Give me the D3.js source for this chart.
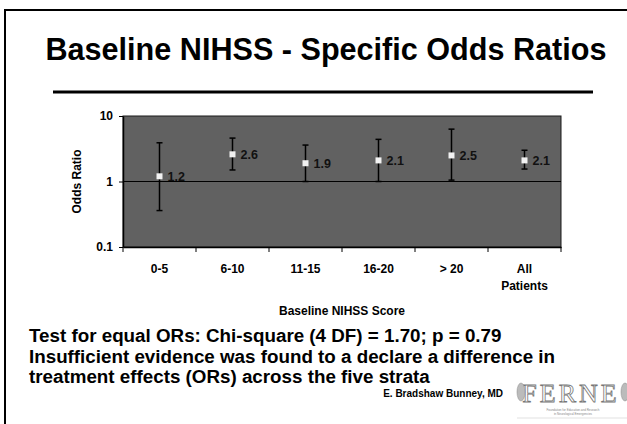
<!DOCTYPE html>
<html lang="en">
<head>
<meta charset="UTF-8">
<title>Baseline NIHSS - Specific Odds Ratios</title>
<style>
  body { margin: 0; background: #fff; font-family: "Liberation Sans", Arial, sans-serif; }
  svg { display: block; }
  .axis text { font-weight: bold; font-size: 12px; fill: #000; }
  .axis path, .axis line { stroke: #000; }
</style>
</head>
<body>
<div id="chart"></div>
<script src="https://d3js.org/d3.v7.min.js"></script>
<script>
// data
const categories = ["0-5", "6-10", "11-15", "16-20", "> 20", "All Patients"];
const oddsRatios = [1.2, 2.6, 1.9, 2.1, 2.5, 2.1];
const lowerCI = [0.36, 1.5, 1.0, 1.0, 1.05, 1.55];
const upperCI = [3.9, 4.6, 3.6, 4.4, 6.3, 3.0];
const yTicks = [0.1, 1, 10];
const notes = [
  "Test for equal ORs: Chi-square (4 DF) = 1.70; p = 0.79",
  "Insufficient evidence was found to a declare a difference in",
  "treatment effects (ORs) across the five strata"
];

const W = 627, H = 424;
const svg = d3.select("#chart").append("svg")
  .attr("width", W).attr("height", H);

// slide frame
svg.append("rect")
  .attr("x", 5).attr("y", 10).attr("width", 700).attr("height", 500)
  .attr("fill", "none").attr("stroke", "#000").attr("stroke-width", 2);

svg.append("text")
  .attr("x", 326).attr("y", 60)
  .attr("text-anchor", "middle")
  .style("font-size", "30.6px").style("font-weight", "bold")
  .text("Baseline NIHSS - Specific Odds Ratios");

svg.append("line")
  .attr("x1", 53).attr("x2", 593).attr("y1", 92).attr("y2", 92)
  .attr("stroke", "#000").attr("stroke-width", 3);

// plot area
const pLeft = 123, pRight = 561, pTop = 116, pBottom = 247;
const x = d3.scaleBand().domain(categories).range([pLeft, pRight]).padding(0);
const y = d3.scaleLog().domain([0.1, 10]).range([pBottom, pTop]);

const g = svg.append("g");
g.append("rect")
  .attr("x", pLeft).attr("y", pTop)
  .attr("width", pRight - pLeft).attr("height", pBottom - pTop)
  .attr("fill", "#616161").attr("stroke", "#1a1a1a").attr("stroke-width", 1);

// gridline at 1
g.append("line")
  .attr("x1", pLeft).attr("x2", pRight)
  .attr("y1", y(1)).attr("y2", y(1))
  .attr("stroke", "#000").attr("stroke-width", 1);

// y axis
const yAxis = g.append("g").attr("class", "axis")
  .attr("transform", `translate(${pLeft},0)`)
  .call(d3.axisLeft(y).tickValues(yTicks).tickSize(4).tickSizeOuter(0)
    .tickFormat(d3.format("~g")));
yAxis.select(".domain").attr("stroke-width", 1.5);
yAxis.selectAll("text").attr("x", -10);

// x axis: ticks on band boundaries, labels centred in bands
const xAxis = g.append("g").attr("class", "axis")
  .attr("transform", `translate(0,${pBottom})`)
  .call(d3.axisBottom(x).tickSize(0).tickSizeOuter(0));
xAxis.select(".domain").attr("stroke-width", 1.5);
xAxis.selectAll("text").attr("y", 22).each(function(d) {
  const t = d3.select(this);
  const words = d.startsWith("All") ? d.split(" ") : [d];
  t.text(null);
  words.forEach((w, i) => {
    t.append("tspan").attr("x", 0).attr("dy", i === 0 ? "0.3em" : "1.45em").text(w);
  });
});
const bounds = categories.map(c => x(c)).concat([x.range()[1]]);
g.selectAll(".xtick").data(bounds).join("line")
  .attr("class", "xtick")
  .attr("x1", d => d).attr("x2", d => d)
  .attr("y1", pBottom).attr("y2", pBottom + 5)
  .attr("stroke", "#000").attr("stroke-width", 1);

// error bars
const cx = d => x(d) + x.bandwidth() / 2;
const bars = g.selectAll(".err").data(categories).join("g").attr("class", "err");
bars.append("line")
  .attr("x1", cx).attr("x2", cx)
  .attr("y1", (d, i) => y(lowerCI[i])).attr("y2", (d, i) => y(upperCI[i]))
  .attr("stroke", "#000").attr("stroke-width", 1.5);
[lowerCI, upperCI].forEach(arr => {
  bars.append("line")
    .attr("x1", d => cx(d) - 3).attr("x2", d => cx(d) + 3)
    .attr("y1", (d, i) => y(arr[i])).attr("y2", (d, i) => y(arr[i]))
    .attr("stroke", "#000").attr("stroke-width", 1.5);
});
bars.append("rect")
  .attr("x", d => cx(d) - 3).attr("y", (d, i) => y(oddsRatios[i]) - 3)
  .attr("width", 6).attr("height", 6)
  .attr("fill", "#f2f2f2");
bars.append("text")
  .attr("x", d => cx(d) + 8).attr("y", (d, i) => y(oddsRatios[i]))
  .attr("dy", "0.36em")
  .style("font-size", "12.5px").style("font-weight", "bold").attr("fill", "#111")
  .text((d, i) => d3.format(".1f")(oddsRatios[i]));

// axis titles
svg.append("text")
  .attr("transform", `translate(81,${(pTop + pBottom) / 2}) rotate(-90)`)
  .attr("text-anchor", "middle")
  .style("font-size", "12px").style("font-weight", "bold")
  .text("Odds Ratio");
svg.append("text")
  .attr("x", (pLeft + pRight) / 2).attr("y", 315)
  .attr("text-anchor", "middle")
  .style("font-size", "12px").style("font-weight", "bold")
  .text("Baseline NIHSS Score");

// notes below the chart
svg.selectAll(".note").data(notes).join("text")
  .attr("class", "note")
  .attr("x", 29).attr("y", (d, i) => 342 + i * 20.5)
  .style("font-size", "18.8px").style("font-weight", "bold")
  .text(d => d);

svg.append("text")
  .attr("x", 503).attr("y", 397)
  .attr("text-anchor", "end")
  .style("font-size", "10px").style("font-weight", "bold")
  .text("E. Bradshaw Bunney, MD");

// FERNE logo (approximation)
const logo = svg.append("g").attr("transform", "translate(513,378)");
logo.append("text")
  .attr("x", 58).attr("y", 24).attr("text-anchor", "middle")
  .style("font-family", "'Liberation Serif', serif").style("font-size", "26px")
  .attr("fill", "#fff").attr("stroke", "#777").attr("stroke-width", 0.8)
  .attr("letter-spacing", "3px")
  .text("FERNE");
logo.append("text")
  .attr("x", 60).attr("y", 33).attr("text-anchor", "middle")
  .style("font-size", "3px").attr("fill", "#888")
  .text("Foundation for Education and Research");
logo.append("text")
  .attr("x", 60).attr("y", 37).attr("text-anchor", "middle")
  .style("font-size", "3px").attr("fill", "#888")
  .text("in Neurological Emergencies");
[[8, 14], [112, 14]].forEach(([lx, ly]) => {
  logo.append("ellipse")
    .attr("cx", lx).attr("cy", ly).attr("rx", 4).attr("ry", 9)
    .attr("fill", "#bbb").attr("stroke", "#888").attr("stroke-width", 0.5);
});
logo.append("path")
  .attr("d", "M4,40 L116,40")
  .attr("stroke", "#ccc").attr("stroke-width", 0.6);
</script>
</body>
</html>
